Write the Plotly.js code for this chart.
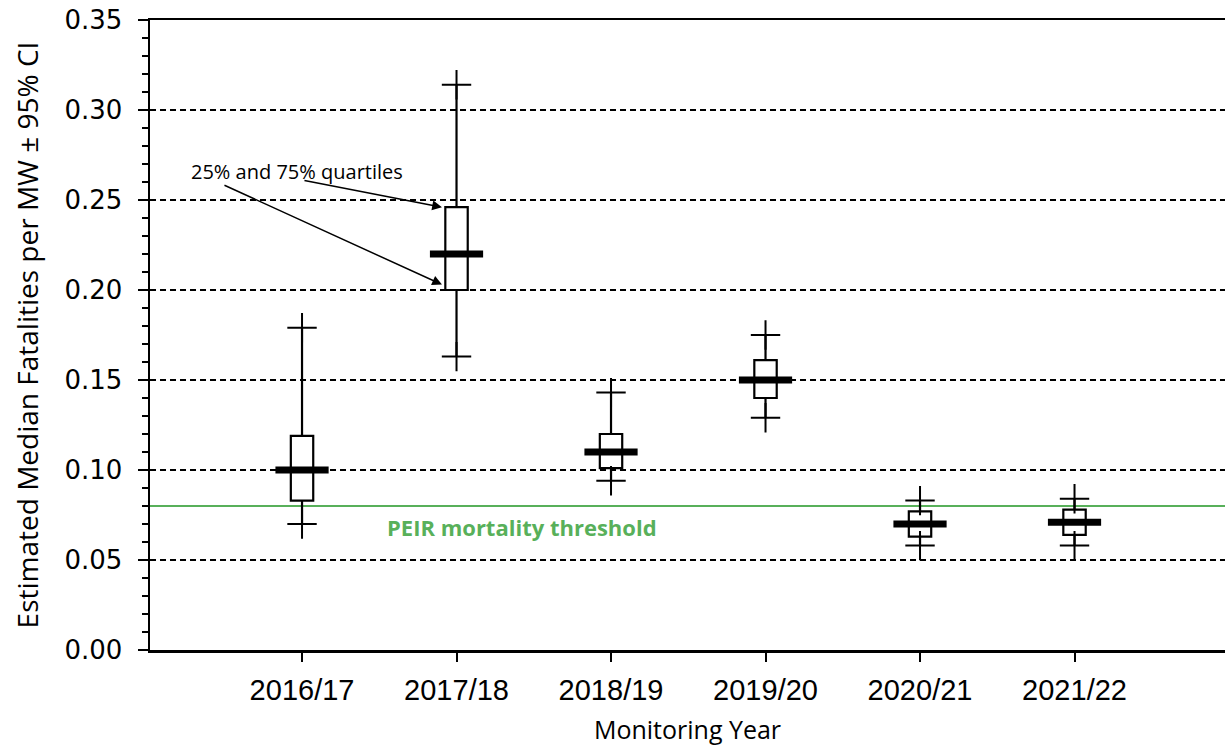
<!DOCTYPE html>
<html>
<head>
<meta charset="utf-8">
<script src="https://cdn.plot.ly/plotly-3.0.1.min.js"></script>
<style>
  html, body { margin: 0; padding: 0; background: #ffffff; }
  #chart { width: 1225px; height: 746px; }
</style>
</head>
<body>
<div id="chart"></div>
<script>
// Monitoring years (x categories)
const years = ['2016/17', '2017/18', '2018/19', '2019/20', '2020/21', '2021/22'];

// Estimated median fatalities per MW with quartiles and 95% CI bounds
const medianValues = [0.100, 0.220, 0.110, 0.150, 0.070, 0.071];
const quartile25 = [0.083, 0.200, 0.101, 0.140, 0.063, 0.064];
const quartile75 = [0.119, 0.246, 0.120, 0.161, 0.077, 0.078];
const ciLower = [0.070, 0.163, 0.094, 0.129, 0.058, 0.058];
const ciUpper = [0.179, 0.314, 0.143, 0.175, 0.083, 0.084];

// PEIR mortality threshold
const peirThreshold = 0.08;
const peirLabel = 'PEIR mortality threshold';

const yTicks = [0, 0.05, 0.10, 0.15, 0.20, 0.25, 0.30, 0.35];

const green = '#58b05a';
const boxWidth = 0.145;

// Boxes: quartile box with whiskers to the CI bounds
const boxTrace = {
  type: 'box',
  x: years,
  q1: quartile25,
  median: medianValues,
  q3: quartile75,
  lowerfence: ciLower,
  upperfence: ciUpper,
  boxpoints: false,
  whiskerwidth: 0,
  width: boxWidth,
  fillcolor: '#ffffff',
  line: { color: '#000000', width: 2.2 },
  hoverinfo: 'skip',
  showlegend: false
};

// Cross-shaped caps at both CI bounds
const capTrace = {
  type: 'scatter',
  mode: 'markers',
  x: years.concat(years),
  y: ciLower.concat(ciUpper),
  marker: {
    symbol: 'cross-thin',
    size: 21,
    color: '#000000',
    line: { color: '#000000', width: 2 }
  },
  hoverinfo: 'skip',
  showlegend: false
};

// Heavy median bars
const medianTrace = {
  type: 'scatter',
  mode: 'markers',
  x: years,
  y: medianValues,
  marker: {
    symbol: 'line-ew',
    size: 38,
    color: '#000000',
    line: { color: '#000000', width: 7 }
  },
  hovertemplate: '%{x}: %{y:.3f}<extra></extra>',
  showlegend: false
};

const iq = 1; // 2017/18 box carries the quartile callout
const layout = {
  width: 1225,
  height: 746,
  margin: { l: 150, r: 0, t: 20, b: 96 },
  paper_bgcolor: '#ffffff',
  plot_bgcolor: '#ffffff',
  showlegend: false,
  font: { family: 'Open Sans, sans-serif', color: '#000000' },
  xaxis: {
    type: 'category',
    categoryarray: years,
    range: [-0.984, 5.974],
    showgrid: false,
    zeroline: false,
    showline: true,
    mirror: true,
    linecolor: '#000000',
    linewidth: 2.5,
    ticks: 'outside',
    ticklen: 9,
    tickwidth: 2,
    tickcolor: '#000000',
    ticklabelstandoff: 4,
    tickfont: { family: 'Liberation Sans, Arial, sans-serif', size: 29, color: '#000000' },
    title: {
      text: 'Monitoring Year',
      font: { family: 'Open Sans, sans-serif', size: 25, color: '#000000' },
      standoff: 16
    }
  },
  yaxis: {
    range: [0, 0.35],
    tickvals: yTicks,
    tickformat: '.2f',
    showgrid: true,
    gridcolor: '#000000',
    gridwidth: 1.5,
    griddash: '6px,4px',
    zeroline: false,
    showline: true,
    linecolor: '#000000',
    linewidth: 2.5,
    ticks: 'outside',
    ticklen: 10,
    tickwidth: 2,
    tickcolor: '#000000',
    ticklabelstandoff: 10,
    tickfont: { family: 'DejaVu Sans, Verdana, sans-serif', size: 26, color: '#000000' },
    minor: {
      dtick: 0.01,
      ticks: 'outside',
      ticklen: 6,
      tickwidth: 1.5,
      tickcolor: '#000000',
      showgrid: false
    },
    title: {
      text: 'Estimated Median Fatalities per MW ± 95% CI',
      font: { family: 'Open Sans, sans-serif', size: 28, color: '#000000' },
      standoff: 18
    }
  },
  shapes: [
    {
      type: 'line',
      xref: 'paper', x0: 0, x1: 1,
      yref: 'y', y0: peirThreshold, y1: peirThreshold,
      line: { color: green, width: 2 },
      layer: 'below'
    }
  ],
  annotations: [
    {
      x: 1.424, y: peirThreshold,
      xref: 'x', yref: 'y',
      yanchor: 'top',
      yshift: -4,
      text: '<b>' + peirLabel + '</b>',
      showarrow: false,
      font: { family: 'Open Sans, sans-serif', size: 22, color: green }
    },
    {
      x: -0.03, y: 0.266,
      xref: 'x', yref: 'y',
      text: '25% and 75% quartiles',
      showarrow: false,
      font: { family: 'Open Sans, sans-serif', size: 20, color: '#000000' }
    },
    {
      x: iq - boxWidth * 0.65, y: quartile25[iq] + 0.003,
      xref: 'x', yref: 'y',
      text: '',
      showarrow: true,
      arrowhead: 2,
      arrowsize: 1.3,
      arrowwidth: 1.5,
      arrowcolor: '#000000',
      axref: 'pixel', ayref: 'pixel',
      ax: -219, ay: -100
    },
    {
      x: iq - boxWidth * 0.65, y: quartile75[iq],
      xref: 'x', yref: 'y',
      text: '',
      showarrow: true,
      arrowhead: 2,
      arrowsize: 1.3,
      arrowwidth: 1.5,
      arrowcolor: '#000000',
      axref: 'pixel', ayref: 'pixel',
      ax: -139, ay: -27
    }
  ]
};

Plotly.newPlot('chart', [boxTrace, capTrace, medianTrace], layout, { displayModeBar: false, staticPlot: true });
</script>
</body>
</html>
